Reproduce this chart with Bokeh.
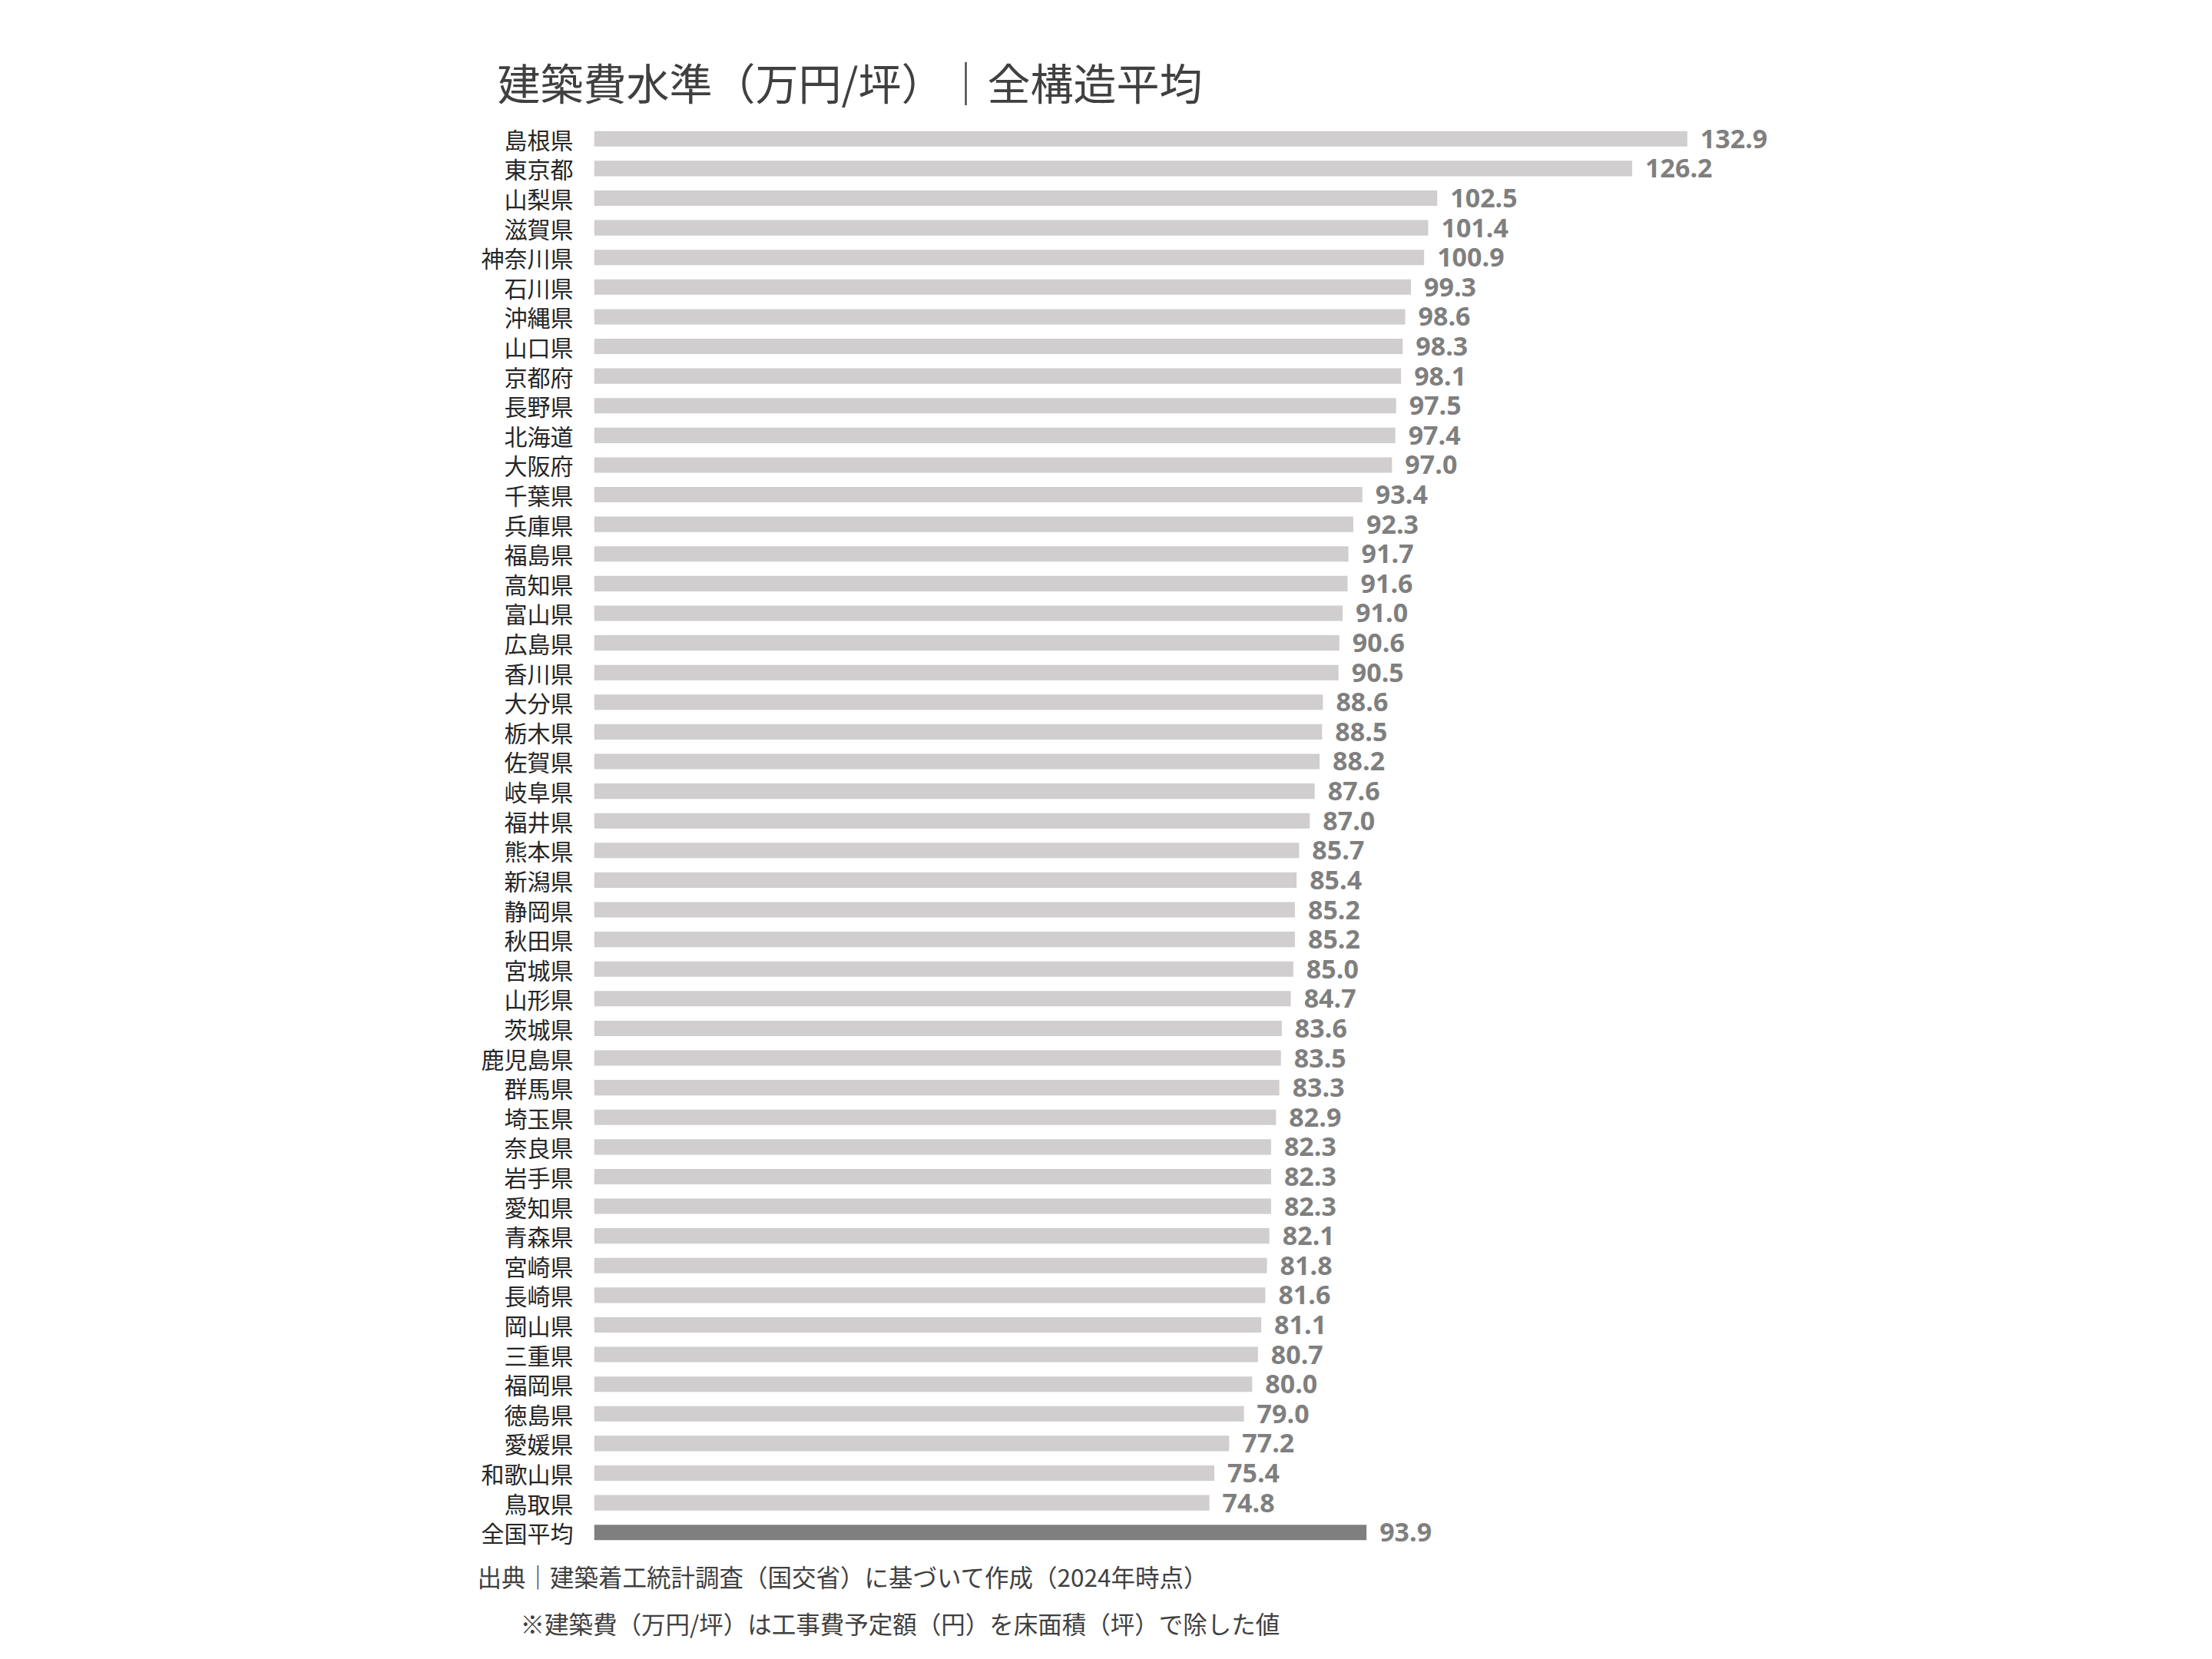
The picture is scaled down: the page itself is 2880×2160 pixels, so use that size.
from bokeh.plotting import figure
from bokeh.models import ColumnDataSource, FactorRange, Range1d, LabelSet, Title
from bokeh.embed import file_html
from bokeh.resources import INLINE
from bokeh.core.properties import value

prefectures = ["島根県", "東京都", "山梨県", "滋賀県", "神奈川県", "石川県", "沖縄県", "山口県",
               "京都府", "長野県", "北海道", "大阪府", "千葉県", "兵庫県", "福島県", "高知県",
               "富山県", "広島県", "香川県", "大分県", "栃木県", "佐賀県", "岐阜県", "福井県",
               "熊本県", "新潟県", "静岡県", "秋田県", "宮城県", "山形県", "茨城県", "鹿児島県",
               "群馬県", "埼玉県", "奈良県", "岩手県", "愛知県", "青森県", "宮崎県", "長崎県",
               "岡山県", "三重県", "福岡県", "徳島県", "愛媛県", "和歌山県", "鳥取県"]
costs = [132.9, 126.2, 102.5, 101.4, 100.9, 99.3, 98.6, 98.3,
         98.1, 97.5, 97.4, 97.0, 93.4, 92.3, 91.7, 91.6,
         91.0, 90.6, 90.5, 88.6, 88.5, 88.2, 87.6, 87.0,
         85.7, 85.4, 85.2, 85.2, 85.0, 84.7, 83.6, 83.5,
         83.3, 82.9, 82.3, 82.3, 82.3, 82.1, 81.8, 81.6,
         81.1, 80.7, 80.0, 79.0, 77.2, 75.4, 74.8]
national_label = "全国平均"
national_value = 93.9

title_text = "建築費水準（万円/坪）｜全構造平均"
source_note = "出典｜建築着工統計調査（国交省）に基づいて作成（2024年時点）"
method_note = "※建築費（万円/坪）は工事費予定額（円）を床面積（坪）で除した値"

cats = prefectures + [national_label]
vals = costs + [national_value]
colors = ["#d0cece"] * len(prefectures) + ["#7f7f7f"]
labels = [f"{v:.1f}" for v in vals]

src = ColumnDataSource(dict(cat=cats, val=vals, color=colors, label=labels))

W, H = 2864, 2144
p = figure(width=W, height=H, output_backend="svg", toolbar_location=None,
           y_range=FactorRange(factors=list(reversed(cats)), range_padding=0),
           x_range=Range1d(0, 1707 / 10.71),
           x_axis_location=None,
           min_border_left=773, min_border_right=384,
           min_border_top=161, min_border_bottom=130)

p.hbar(y="cat", right="val", left=0, height=0.52, color="color", line_color=None, source=src)

p.add_layout(LabelSet(x="val", y="cat", text="label", source=src, x_offset=17,
                      text_align="left", text_baseline="middle",
                      text_font=value("Open Sans"), text_font_style="bold",
                      text_font_size="34px", text_color="#7f7f7f"))

yax = p.yaxis[0]
yax.axis_line_color = None
yax.major_tick_line_color = None
yax.minor_tick_line_color = None
yax.major_tick_in = 0
yax.major_tick_out = 0
yax.major_label_standoff = 27
yax.major_label_text_font = "Noto Sans CJK JP"
yax.major_label_text_font_size = "30px"
yax.major_label_text_color = "#262626"

p.xgrid.visible = False
p.ygrid.visible = False
p.outline_line_color = None
p.background_fill_color = "white"
p.border_fill_color = "white"

p.title.text = title_text
p.title.align = "left"
p.title.offset = -126
p.title.standoff = 32
p.title.text_font = "Noto Sans CJK JP"
p.title.text_font_size = "56px"
p.title.text_font_style = "normal"
p.title.text_color = "#404040"

note1 = Title(text=source_note, align="left", offset=-152, standoff=25,
              text_font="Noto Sans CJK JP", text_font_size="31.5px",
              text_font_style="normal", text_color="#404040")
note2 = Title(text=method_note, align="left", offset=-96, standoff=0,
              text_font="Noto Sans CJK JP", text_font_size="31.5px",
              text_font_style="normal", text_color="#404040")
p.add_layout(note1, "below")
p.add_layout(note2, "below")

open("out.html", "w").write(file_html(p, INLINE))
